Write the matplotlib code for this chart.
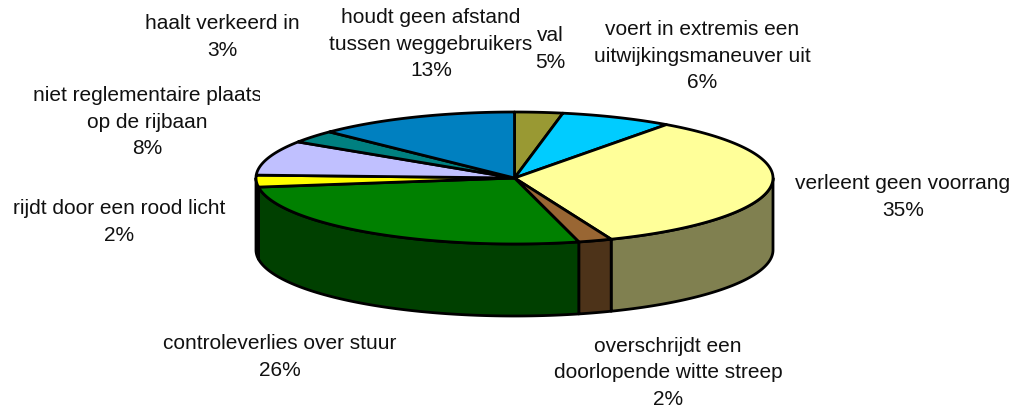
import numpy as np
import matplotlib
matplotlib.use("Agg")
import matplotlib.pyplot as plt
from matplotlib.patches import Polygon, Rectangle

categories = ["val", "voert in extremis een\nuitwijkingsmaneuver uit", "verleent geen voorrang",
              "overschrijdt een\ndoorlopende witte streep", "controleverlies over stuur",
              "rijdt door een rood licht", "niet reglementaire plaats\nop de rijbaan",
              "haalt verkeerd in", "houdt geen afstand\ntussen weggebruikers"]
# percentages printed on the labels
label_pct = [5, 6, 35, 2, 26, 2, 8, 3, 13]
# slice sizes (they differ a bit from the printed ones)
drawn_pct = [3.0, 7.0, 33.9, 2.1, 26.8, 2.9, 8.5, 3.1, 12.7]
top_colors = ["#999933", "#00CCFF", "#FFFF99", "#996633", "#008000",
              "#FFFF00", "#C0C0FF", "#008080", "#0080C0"]
side_colors = ["#4D4D1A", "#006680", "#808050", "#4D3319", "#004000",
               "#000000", "#606080", "#004040", "#004060"]
label_x = [550, 702, 903, 668, 280, 119, 147, 222, 431]
label_y = [49, 56, 197, 373, 357, 222, 122, 37, 44]

cx, cy, rx, ry, depth = 514.5, 179, 258.5, 66, 72
lw = 2


def rim(a0, a1, dy=0):
    # points on the ellipse, angle clockwise from the top
    t = np.radians(np.linspace(a0, a1, 200))
    return np.column_stack([cx + rx * np.sin(t), cy - ry * np.cos(t) + dy])


fig = plt.figure(figsize=(10.15, 4.10), dpi=100)
ax = fig.add_axes([0, 0, 1, 1])
ax.set_xlim(0, 1015)
ax.set_ylim(410, 0)
ax.axis("off")

edges = np.concatenate([[0], np.cumsum(drawn_pct)]) / sum(drawn_pct) * 360

# walls first, only the front half can be seen
for i, c in enumerate(side_colors):
    a0, a1 = max(edges[i], 90), min(edges[i + 1], 270)
    if a1 <= a0:
        continue
    pts = np.vstack([rim(a0, a1), rim(a0, a1, depth)[::-1]])
    ax.add_patch(Polygon(pts, closed=True, facecolor=c, edgecolor="black", linewidth=lw, joinstyle="round"))

# top of the pie
for i, c in enumerate(top_colors):
    pts = np.vstack([[cx, cy], rim(edges[i], edges[i + 1])])
    ax.add_patch(Polygon(pts, closed=True, facecolor=c, edgecolor="black", linewidth=lw, joinstyle="round"))

for name, pct, x, y in zip(categories, label_pct, label_x, label_y):
    t = ax.text(x, y, f"{name}\n{pct}%", ha="center", va="center", multialignment="center",
                family="Liberation Sans", fontsize=15, color="#111111", linespacing=1.52)
    if name.startswith("niet"):
        # this label is cut off in the original
        t.set_clip_path(Rectangle((0, 0), 260, 410, transform=ax.transData))
        t.set_clip_on(True)

fig.savefig("out.png", dpi=100, facecolor="white")
